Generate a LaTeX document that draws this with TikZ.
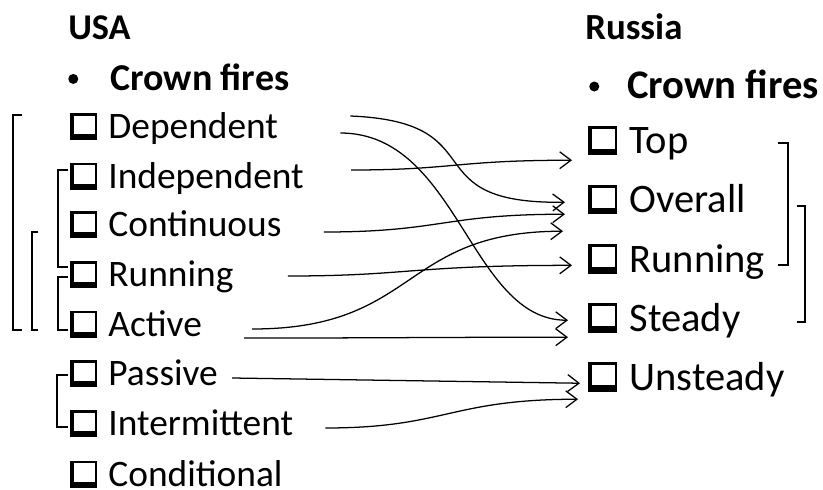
\documentclass[tikz,border=0pt]{standalone}
\usepackage{fontspec}
\setmainfont{Carlito}
\usetikzlibrary{arrows.meta}

% shadowed check box in front of each item
\newcommand{\cbox}{\tikz[baseline=0pt]{\fill (0,-0.04em) rectangle (0.72em,0.68em);
  \fill[white] (0.1em,0.12em) rectangle (0.65em,0.61em);}\hspace{0.3em}}
% small round bullet
\newcommand{\dotmark}{\raisebox{0.16em}{\tikz\fill (0,0) circle (0.125cm);}}

\begin{document}
\begin{tikzpicture}[
  litem/.style={anchor=base west, inner sep=0pt, font=\fontsize{26.6}{30}\selectfont},
  ritem/.style={anchor=base west, inner sep=0pt, text height=0.75em, text depth=0.2em,
    font=\fontsize{28.8}{32}\selectfont},
  head/.style={anchor=base west, inner sep=0pt, font=\fontsize{25.8}{30}\selectfont\bfseries},
  link/.style={line width=0.9pt, -{Straight Barb[length=8pt,width=12pt]}},
  brack/.style={line width=1.6pt}
]
  \useasboundingbox (0,0) rectangle (20.575,12.225);

  % left column
  \node[head] (usa) at (1.7,11.2375) {USA};
  \node[head, font=\fontsize{27}{30}\selectfont\bfseries] (usacf) at (1.7,9.975)
    {\makebox[1.05cm][l]{\dotmark}Crown fires};
  \node[litem] (dep) at (1.75,8.7625) {\cbox Dependent};
  \node[litem] (ind) at (1.75,7.5225) {\cbox Independent};
  \node[litem] (con) at (1.75,6.305)  {\cbox Continuous};
  \node[litem] (run) at (1.75,5.065)  {\cbox Running};
  \node[litem] (act) at (1.75,3.8225) {\cbox Active};
  \node[litem] (pas) at (1.75,2.5825) {\cbox Passive};
  \node[litem] (int) at (1.75,1.34)   {\cbox Intermittent};
  \node[litem] (cnd) at (1.75,0.075)  {\cbox Conditional};

  % right column
  \node[head, font=\fontsize{26.2}{30}\selectfont\bfseries] (rus) at (14.625,11.2375) {Russia};
  \node[head, font=\fontsize{28.9}{32}\selectfont\bfseries] (ruscf) at (14.725,9.775)
    {\makebox[0.95cm][l]{\dotmark}Crown fires};
  \node[ritem] (top)  at (14.7,8.3875) {\cbox Top};
  \node[ritem] (ovr)  at (14.7,6.9125) {\cbox Overall};
  \node[ritem] (rrun) at (14.7,5.425)  {\cbox Running};
  \node[ritem] (std)  at (14.7,3.95)   {\cbox Steady};
  \node[ritem] (uns)  at (14.7,2.475)  {\cbox Unsteady};

  % groupings
  \draw[brack] (0.55,9.35) -- (0.325,9.35) -- (0.325,3.975) -- (0.55,3.975);
  \draw[brack] (0.95,6.425) -- (0.8,6.425) -- (0.8,3.975) -- (0.95,3.975);
  \draw[brack] (1.7,7.975) -- (1.45,7.975) -- (1.45,5.55) -- (1.7,5.55);
  \draw[brack] (1.7,5.3) -- (1.45,5.3) -- (1.45,3.975) -- (1.7,3.975);
  \draw[brack] (1.7,2.85) -- (1.425,2.85) -- (1.425,1.55) -- (1.7,1.55);
  \draw[brack] (19.45,8.65) -- (19.7,8.65) -- (19.7,5.6) -- (19.45,5.6);
  \draw[brack] (19.925,7.075) -- (20.125,7.075) -- (20.125,4.175) -- (19.925,4.175);

  % correspondences
  \draw[link] ([shift={(1.8,0.5625)}]dep.base east) .. controls +(3.7,-0.15) and +(-3.875,-0.05) .. ([shift={(-0.575,0.16)}]ovr.west);
  \draw[link] ([shift={(1.55,0.1375)}]dep.base east) .. controls +(2.95,0) and +(-2.45,0) .. ([shift={(-0.5,0.1725)}]std.west);
  \draw[link] ([shift={(1.175,0.4525)}]ind.base east) .. controls +(2.575,0) and +(-2.925,0) .. ([shift={(-0.4,-0.265)}]top.west);
  \draw[link] ([shift={(1.05,0.12)}]con.base east) .. controls +(2.95,0) and +(-3.05,0) .. ([shift={(-0.575,-0.14)}]ovr.west);
  \draw[link] ([shift={(1.35,0.26)}]run.base east) .. controls +(3.025,0) and +(-4.05,0) .. ([shift={(-0.4,0.07)}]rrun.west);
  \draw[link] ([shift={(1.25,0.1775)}]act.base east) .. controls +(4.175,0) and +(-4.075,0) .. ([shift={(-0.625,-0.565)}]ovr.west);
  \draw[link] ([shift={(1.05,-0.0475)}]act.base east) .. controls +(4.125,0) and +(-3.95,0) .. ([shift={(-0.5,-0.2525)}]std.west);
  \draw[link] ([shift={(0.35,0.1925)}]pas.base east) -- ([shift={(-0.2,0.0725)}]uns.west);
  \draw[link] ([shift={(0.8,0.185)}]int.base east) .. controls +(3.0,0) and +(-3.2,0) .. ([shift={(-0.25,-0.3275)}]uns.west);
\end{tikzpicture}
\end{document}
